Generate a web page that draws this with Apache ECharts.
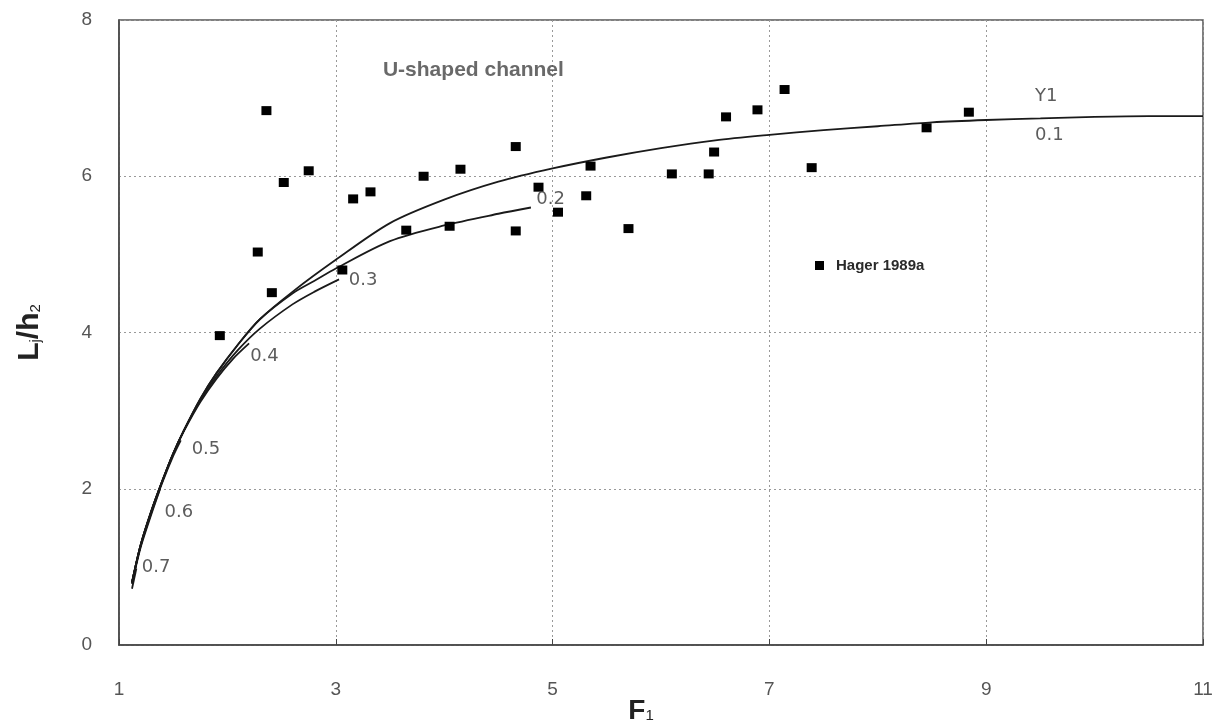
<!DOCTYPE html>
<html>
<head>
<meta charset="utf-8">
<script src="https://cdn.jsdelivr.net/npm/echarts@6/dist/echarts.min.js"></script>
<style>
html,body{margin:0;padding:0;background:#fff;}
#c{width:1217px;height:725px;}
</style>
</head>
<body>
<div id="c"></div>
<script>
// Measured data: Hager 1989a (F1, Lj/h2)
var hagerF = [1.93,2.28,2.36,2.41,2.52,2.75,3.06,3.16,3.32,3.65,3.81,4.05,4.15,4.66,4.66,4.87,5.05,5.31,5.35,5.70,6.10,6.44,6.49,6.60,6.89,7.14,7.39,8.45,8.84];
var hagerL = [3.96,5.03,6.84,4.51,5.92,6.07,4.80,5.71,5.80,5.31,6.00,5.36,6.09,6.38,5.30,5.86,5.54,5.75,6.13,5.33,6.03,6.03,6.31,6.76,6.85,7.11,6.11,6.62,6.82];

// Curves for Y1 values
var curve01F = [1.12,1.2,1.3,1.4,1.5,1.6,1.75,1.9,2.1,2.3,2.6,3.0,3.5,4.0,4.5,5.0,5.5,6.0,6.5,7.0,7.5,8.0,8.5,9.0,9.5,10,10.5,11];
var curve01L = [0.80,1.28,1.72,2.10,2.45,2.75,3.15,3.48,3.85,4.17,4.52,4.93,5.40,5.70,5.93,6.10,6.24,6.36,6.46,6.53,6.59,6.64,6.69,6.72,6.74,6.76,6.77,6.77];
var curve02F = [1.12,1.2,1.3,1.4,1.5,1.6,1.75,1.9,2.1,2.3,2.6,2.8,3.0,3.5,4.0,4.5,4.8];
var curve02L = [0.80,1.28,1.72,2.10,2.45,2.75,3.15,3.48,3.85,4.17,4.50,4.66,4.82,5.17,5.37,5.52,5.60];
var curve03F = [1.12,1.2,1.3,1.4,1.5,1.6,1.75,1.9,2.1,2.3,2.6,2.8,3.03];
var curve03L = [0.80,1.28,1.72,2.10,2.45,2.75,3.13,3.44,3.78,4.05,4.36,4.52,4.68];
var curve04F = [1.12,1.2,1.3,1.4,1.5,1.6,1.75,1.9,2.05,2.2];
var curve04L = [0.80,1.28,1.72,2.10,2.45,2.74,3.11,3.41,3.66,3.86];
var curve05F = [1.12,1.2,1.3,1.4,1.5,1.57];
var curve05L = [0.80,1.27,1.70,2.08,2.42,2.62];
var curve06F = [1.12,1.2,1.3,1.38];
var curve06L = [0.78,1.25,1.68,2.00];
var curve07F = [1.12,1.16];
var curve07L = [0.72,0.98];

// Curve labels
var labelText = ['Y1','0.1','0.2','0.3','0.4','0.5','0.6','0.7'];
var labelF = [9.45,9.45,4.85,3.12,2.21,1.67,1.42,1.21];
var labelL = [7.02,6.53,5.70,4.67,3.69,2.50,1.70,1.00];

var xTicks = [1,3,5,7,9,11];
var yTicks = [0,2,4,6,8];

function pairs(a,b){var r=[];for(var i=0;i<a.length;i++)r.push([a[i],b[i]]);return r;}

var chart = echarts.init(document.getElementById('c'));
var lineStyle = {color:'#1a1a1a', width:1.8};
function curve(name,F,L){
  return {name:name,type:'line',data:pairs(F,L),showSymbol:false,symbol:'none',smooth:0.3,lineStyle:lineStyle,z:3,silent:true};
}
var labData = [];
for (var i=0;i<labelText.length;i++) labData.push({name:labelText[i], value:[labelF[i],labelL[i]]});

var fontFam = '"Liberation Sans", Arial, sans-serif';
chart.setOption({
  animation:false,
  textStyle:{fontFamily:fontFam},
  grid:{left:119,right:14,top:20,bottom:80,containLabel:false,outerBoundsMode:'none',
    show:true,borderColor:'#555',borderWidth:1.5,backgroundColor:'#fff'},
  legend:{data:['Hager 1989a'],left:810,top:253,icon:'rect',itemWidth:9,itemHeight:9,itemGap:6,
    textStyle:{fontSize:15,fontWeight:'bold',color:'#2a2a2a',fontFamily:fontFam,padding:[0,0,0,7]}},
  xAxis:{type:'value',min:xTicks[0],max:xTicks[xTicks.length-1],interval:2,
    axisLine:{show:true,lineStyle:{color:'#444',width:1.5}},
    axisTick:{show:true,inside:true,length:6,lineStyle:{color:'#444'}},
    axisLabel:{fontSize:19,color:'#555',margin:35},
    splitLine:{show:true,lineStyle:{color:'#999',type:[2,3],width:1}},
    name:'{a|F}{b|1}',nameLocation:'middle',nameGap:52,nameMoveOverlap:false,
    nameTextStyle:{padding:[0,40,0,0],rich:{a:{fontSize:28,fontWeight:'bold',color:'#222',fontFamily:fontFam},b:{fontSize:15,color:'#222',padding:[10,0,0,0],fontFamily:fontFam}}}
  },
  yAxis:{type:'value',min:yTicks[0],max:yTicks[yTicks.length-1],interval:2,
    axisLine:{show:true,lineStyle:{color:'#444',width:1.5}},
    axisTick:{show:false},
    axisLabel:{fontSize:19,color:'#555',margin:27},
    splitLine:{show:true,lineStyle:{color:'#999',type:[2,3],width:1}},
    name:'{a|L}{b|j}{a|/h}{b|2}',nameLocation:'middle',nameGap:74,nameRotate:90,nameMoveOverlap:false,
    nameTextStyle:{rich:{a:{fontSize:30,fontWeight:'bold',color:'#222',fontFamily:fontFam},b:{fontSize:15,color:'#222',padding:[12,0,0,0],fontFamily:fontFam}}}
  },
  series:[
    curve('c07',curve07F,curve07L),
    curve('c06',curve06F,curve06L),
    curve('c05',curve05F,curve05L),
    curve('c04',curve04F,curve04L),
    curve('c03',curve03F,curve03L),
    curve('c02',curve02F,curve02L),
    curve('c01',curve01F,curve01L),
    {name:'Hager 1989a',type:'scatter',data:pairs(hagerF,hagerL),symbol:'rect',symbolSize:[10,9],
      itemStyle:{color:'#000',opacity:1},z:5},
    {name:'labels',type:'scatter',data:labData,symbolSize:0,silent:true,z:6,
      label:{show:true,position:'right',distance:0,formatter:'{b}',fontSize:18,color:'#333',fontFamily:'"DejaVu Sans", sans-serif'}},
    {name:'title',type:'scatter',data:[{name:'U-shaped channel',value:[3.435,7.36]}],symbolSize:0,silent:true,
      label:{show:true,position:'right',distance:0,formatter:'{b}',fontSize:21,fontWeight:'bold',color:'#444',fontFamily:fontFam}}
  ]
});
</script>
</body>
</html>
